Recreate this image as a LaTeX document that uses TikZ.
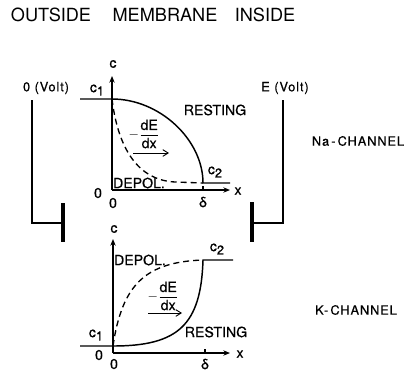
\documentclass[tikz,border=0pt]{standalone}
\usepackage{fontspec}
\setmainfont[FakeBold=0.6]{TeX Gyre Heros}
\newfontfamily\spaced[LetterSpace=7,FakeBold=0.6]{TeX Gyre Heros}
\newfontfamily\plainf{TeX Gyre Heros}
\usetikzlibrary{arrows.meta}
\tikzset{
  lab/.style={inner sep=0pt, font=\fontsize{10.6}{12}\selectfont},
  slab/.style={inner sep=0pt, font=\fontsize{9.6}{11}\spaced},
  ttl/.style={inner sep=0pt, font=\fontsize{13.6}{16}\plainf},
  axis/.style={line width=0.8pt, -{Stealth[length=5pt,width=4pt]}},
  curve/.style={line width=1.1pt},
  dcurve/.style={line width=1.0pt, dash pattern=on 4.5pt off 3pt},
  wire/.style={line width=0.8pt},
  plate/.style={line width=2.6pt},
  flux/.style={line width=0.7pt, -{Straight Barb[length=4pt,width=5pt]}}
}
\newcommand{\cc}[1]{c\raisebox{-0.45ex}{\fontsize{9.6}{11}\selectfont #1}}
\newcommand{\dEdx}{$\displaystyle -\frac{\hbox{\fontsize{10.6}{12}\selectfont dE}}{\hbox{\fontsize{10.6}{12}\selectfont dx}}$}
\begin{document}
\begin{tikzpicture}[x=0.75pt,y=-0.75pt]
\useasboundingbox (0,0) rectangle (413,372);
% title
\node[ttl] (outside) at (51,15) {OUTSIDE};
\node[ttl] (membrane) at (165,15) {MEMBRANE};
\node[ttl] (inside) at (265,15) {INSIDE};
% electrodes
\node[slab] (v0) at (46,88) {0 (Volt)};
\node[slab] (vE) at (285,88) {E (Volt)};
\coordinate (l1) at (32,100); \coordinate (l2) at (32,223); \coordinate (l3) at (63,223);
\coordinate (lp1) at (63,203); \coordinate (lp2) at (63,242);
\coordinate (r1) at (283,100); \coordinate (r2) at (283,223); \coordinate (r3) at (252,223);
\coordinate (rp1) at (252,202); \coordinate (rp2) at (252,242);
\draw[wire] (l1) -- (l2) -- (l3);
\draw[plate] (lp1) -- (lp2);
\draw[wire] (r1) -- (r2) -- (r3);
\draw[plate] (rp1) -- (rp2);
\node[slab] (na) at (358,141) {Na\,-\,CHANNEL};
\node[slab] (k) at (356,310) {K-\,CHANNEL};
% ---------- top plot ----------
\coordinate (o1) at (112,190);
\coordinate (yt1) at (112,76);
\coordinate (xt1) at (230,190);
\draw[axis] (o1) -- (yt1);
\draw[axis] (o1) -- (xt1);
\node[lab] (cT) at (113,64) {c};
\node[lab] (xT) at (238,191) {x};
\node[lab] (z1T) at (98,193) {0};
\node[lab] (z2T) at (113,203) {0};
\node[lab] (dT) at (203,202) {δ};
\draw[wire] (203,186) -- (203,190);
\coordinate (a1) at (80,99); \coordinate (b1) at (112,99);
\coordinate (c2a) at (203,183); \coordinate (c2b) at (230,183);
\draw[curve] (a1) -- (b1) .. controls (160,99) and (203,140) .. (c2a) -- (c2b);
\draw[dcurve] (b1) .. controls (117,140) and (133,180) .. (175,182) -- (c2a);
\node[lab] (c1T) at (97,90) {\cc{1}};
\node[lab] (c2T) at (215,172) {\cc{2}};
\node[lab] (restT) at (215,110) {RESTING};
\node[lab] (depT) at (139,183) {DEPOL.};
\node[inner sep=0pt] (fT) at (144,134) {\dEdx};
\coordinate (fa1) at (133,153); \coordinate (fb1) at (169,153);
\draw[flux] (fa1) -- (fb1);
% ---------- bottom plot ----------
\coordinate (o2) at (113,353);
\coordinate (yt2) at (113,239);
\coordinate (xt2) at (230,353);
\draw[axis] (o2) -- (yt2);
\draw[axis] (o2) -- (xt2);
\node[lab] (cB) at (114,229) {c};
\node[lab] (xB) at (240,354) {x};
\node[lab] (z1B) at (99,355) {0};
\node[lab] (z2B) at (114,364) {0};
\node[lab] (dB) at (205,364) {δ};
\draw[wire] (205,349) -- (205,353);
\coordinate (a2) at (80,346); \coordinate (b2) at (113,346);
\coordinate (d2a) at (203,260); \coordinate (d2b) at (233,260);
\draw[curve] (a2) -- (b2) .. controls (178,346) and (201,325) .. (d2a) -- (d2b);
\draw[dcurve] (b2) .. controls (122,285) and (145,262) .. (d2a);
\node[lab] (c1B) at (96,335) {\cc{1}};
\node[lab] (c2B) at (217,249) {\cc{2}};
\node[lab] (restB) at (216,332) {RESTING};
\node[lab] (depB) at (140,260) {DEPOL.};
\node[inner sep=0pt] (fB) at (163,296) {\dEdx};
\coordinate (fa2) at (148,313); \coordinate (fb2) at (182,313);
\draw[flux] (fa2) -- (fb2);
\end{tikzpicture}
\end{document}
